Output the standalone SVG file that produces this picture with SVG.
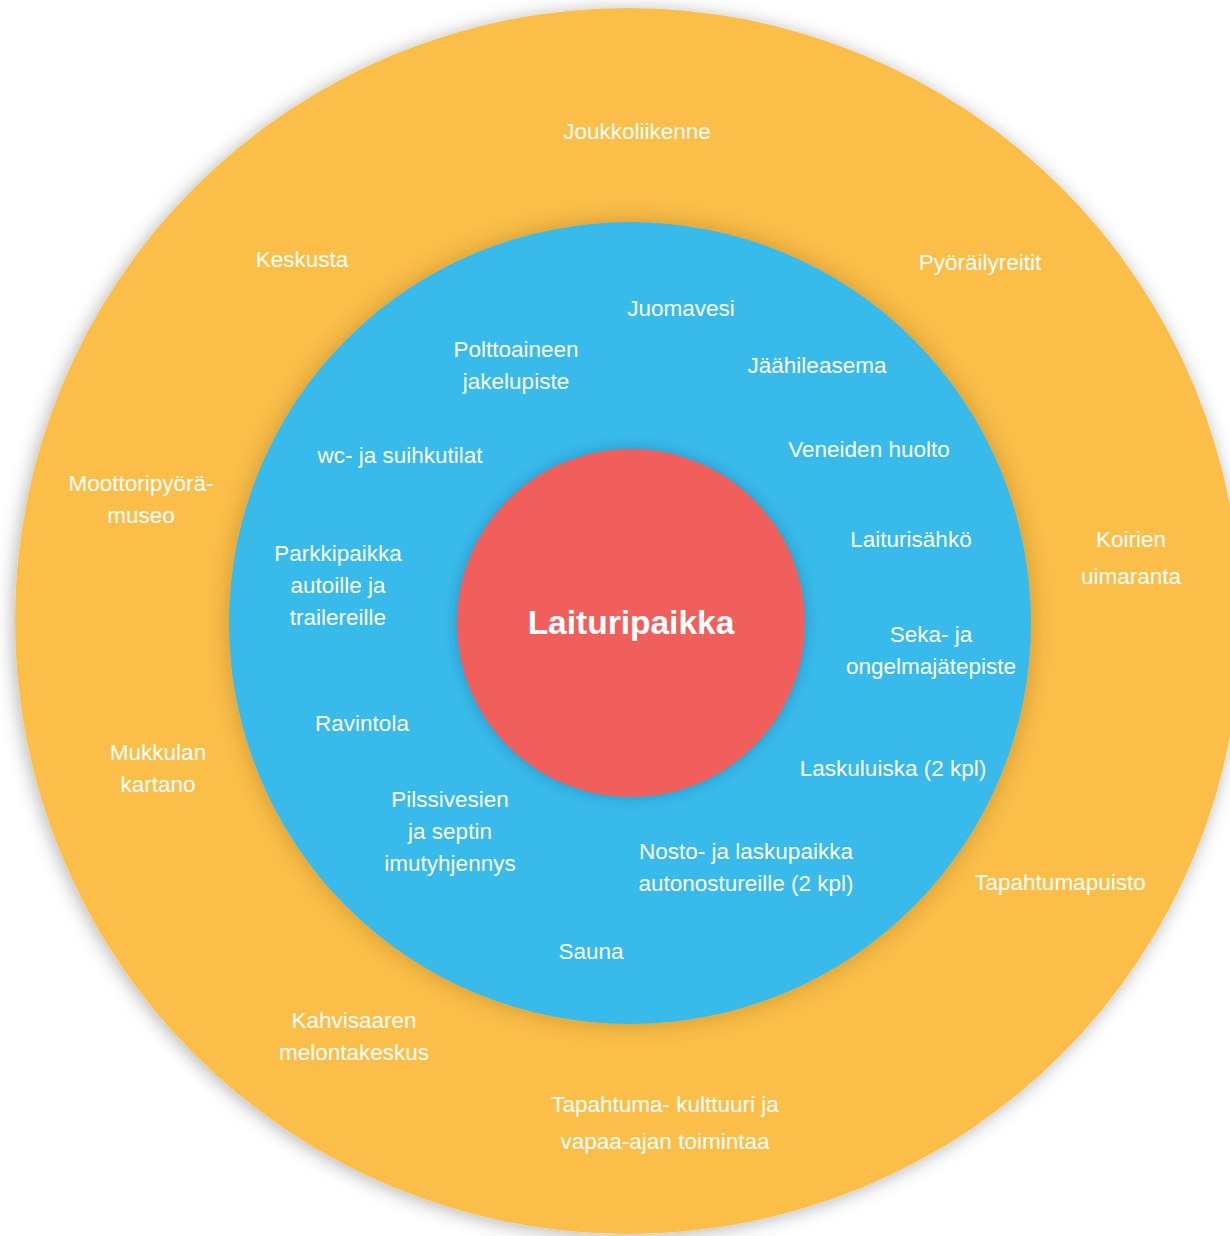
<svg xmlns="http://www.w3.org/2000/svg" width="1230" height="1236" viewBox="0 0 1230 1236">
<defs>
<filter id="shOuter" x="-10%" y="-10%" width="120%" height="120%">
<feDropShadow dx="-2" dy="2" stdDeviation="9" flood-color="#000" flood-opacity="0.3"/>
</filter>
<filter id="shBlue" x="-10%" y="-10%" width="120%" height="120%">
<feDropShadow dx="0" dy="0" stdDeviation="12" flood-color="#7a4a00" flood-opacity="0.35"/>
</filter>
<filter id="shRed" x="-10%" y="-10%" width="120%" height="120%">
<feDropShadow dx="0" dy="0" stdDeviation="7" flood-color="#003a60" flood-opacity="0.3"/>
</filter>
</defs>
<style>
text{font-family:"Liberation Sans","DejaVu Sans",sans-serif;fill:#ffffff;text-anchor:middle;font-size:22.5px}
.c{font-size:33.5px;font-weight:bold}
</style>
<rect width="1230" height="1236" fill="#ffffff"/>
<g id="outer-ring">
<circle cx="628" cy="621" r="613" fill="#FBBF49" filter="url(#shOuter)"/>
<text x="637" y="139">Joukkoliikenne</text>
<text x="302" y="267">Keskusta</text>
<text x="980" y="270">Pyöräilyreitit</text>
<text x="141" y="491">Moottoripyörä-</text>
<text x="141" y="523">museo</text>
<text x="1131" y="547">Koirien</text>
<text x="1131" y="584">uimaranta</text>
<text x="158" y="760">Mukkulan</text>
<text x="158" y="792">kartano</text>
<text x="1060" y="890">Tapahtumapuisto</text>
<text x="354" y="1028">Kahvisaaren</text>
<text x="354" y="1060">melontakeskus</text>
<text x="665" y="1112">Tapahtuma- kulttuuri ja</text>
<text x="665" y="1149">vapaa-ajan toimintaa</text>
</g>
<g id="middle-ring">
<circle cx="630" cy="623" r="401" fill="#38BAEA" filter="url(#shBlue)"/>
<text x="681" y="316">Juomavesi</text>
<text x="516" y="357">Polttoaineen</text>
<text x="516" y="389">jakelupiste</text>
<text x="817" y="373">Jäähileasema</text>
<text x="400" y="463">wc- ja suihkutilat</text>
<text x="869" y="457">Veneiden huolto</text>
<text x="911" y="547">Laiturisähkö</text>
<text x="338" y="561">Parkkipaikka</text>
<text x="338" y="593">autoille ja</text>
<text x="338" y="625">trailereille</text>
<text x="931" y="642">Seka- ja</text>
<text x="931" y="674">ongelmajätepiste</text>
<text x="362" y="731">Ravintola</text>
<text x="893" y="776">Laskuluiska (2 kpl)</text>
<text x="450" y="807">Pilssivesien</text>
<text x="450" y="839">ja septin</text>
<text x="450" y="871">imutyhjennys</text>
<text x="746" y="859">Nosto- ja laskupaikka</text>
<text x="746" y="891">autonostureille (2 kpl)</text>
<text x="591" y="959">Sauna</text>
</g>
<g id="center">
<circle cx="631" cy="623" r="174" fill="#F05F5B" filter="url(#shRed)"/>
<text class="c" x="631" y="634">Laituripaikka</text>
</g>
</svg>
